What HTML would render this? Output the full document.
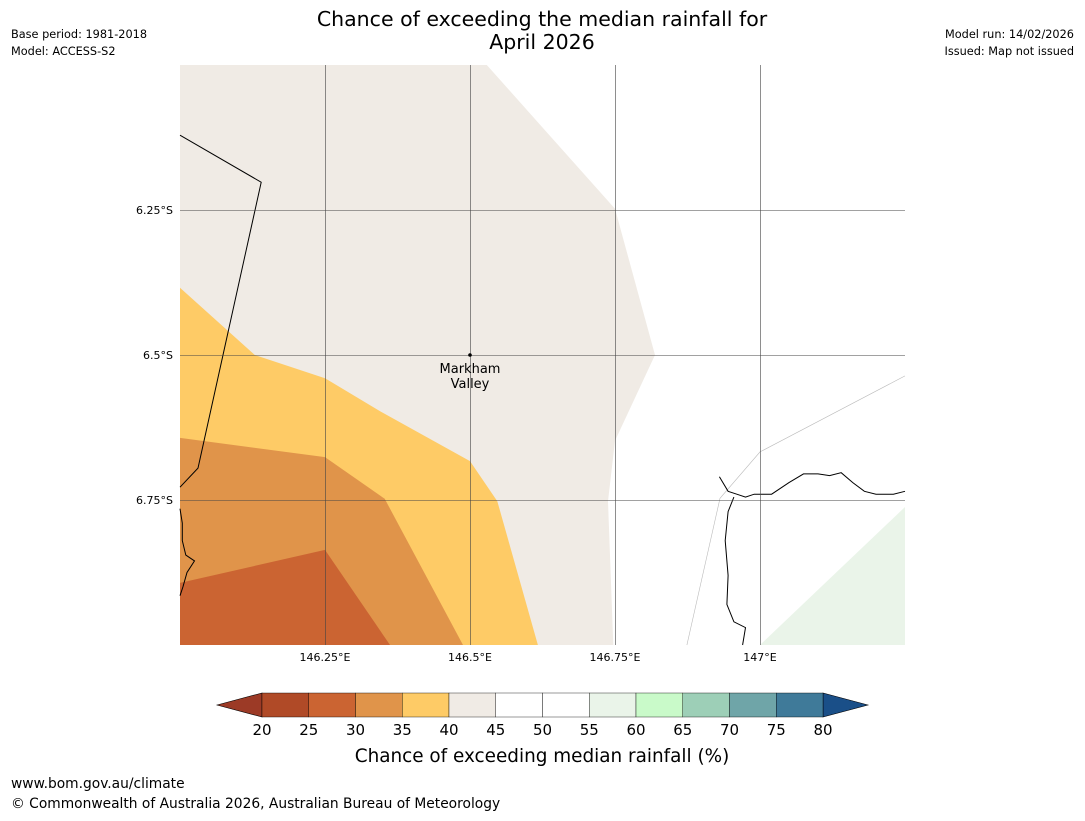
<!DOCTYPE html>
<html><head><meta charset="utf-8"><style>
body{margin:0;background:#fff;width:1085px;height:816px;overflow:hidden;font-family:"Liberation Sans","DejaVu Sans",sans-serif}
svg text{font-family:"DejaVu Sans","Liberation Sans",sans-serif}
</style></head><body>
<svg id="c" width="1085" height="816">
<text x="542" y="26" font-size="20.5" text-anchor="middle">Chance of exceeding the median rainfall for</text>
<text x="542" y="49" font-size="20.5" text-anchor="middle">April 2026</text>
<text x="11" y="38" font-size="11.3">Base period: 1981-2018</text>
<text x="11" y="55" font-size="11.3">Model: ACCESS-S2</text>
<text x="1074" y="38" font-size="11.3" text-anchor="end">Model run: 14/02/2026</text>
<text x="1074" y="55" font-size="11.3" text-anchor="end">Issued: Map not issued</text>
<g id="map"></g>
<g id="cb"></g>
<text x="542" y="762" font-size="18.4" text-anchor="middle">Chance of exceeding median rainfall (%)</text>
<text x="11" y="788" font-size="13.8">www.bom.gov.au/climate</text>
<text x="11" y="808" font-size="13.8">© Commonwealth of Australia 2026, Australian Bureau of Meteorology</text>
</svg>
<script>
const lonTicks=[146.25,146.5,146.75,147];
const latTicks=[6.25,6.5,6.75];
const lonLabels=["146.25°E","146.5°E","146.75°E","147°E"];
const latLabels=["6.25°S","6.5°S","6.75°S"];
const cbLevels=[20,25,30,35,40,45,50,55,60,65,70,75,80];
const cbColors=["#b04a27","#cb6432","#e0944a","#fecb66","#f0ebe5","#ffffff","#ffffff","#eaf4e9","#c9fac9","#9dcfb7","#6fa5a8","#3f7a99"];
const zone4045=[[146,6],[146.529,6],[146.75,6.248],[146.819,6.5],[146.75,6.648],[146.738,6.752],[146.747,7],[146,7]];
const zone3540=[[146,6.384],[146.129,6.5],[146.25,6.54],[146.345,6.597],[146.5,6.683],[146.547,6.752],[146.617,7],[146,7]];
const zone3035=[[146,6.643],[146.25,6.676],[146.353,6.748],[146.488,7],[146,7]];
const zone2530=[[146,6.893],[146.25,6.836],[146.362,7],[146,7]];
const zone5560=[[147,7],[147.25,6.762],[147.25,7]];
const border=[[146,6.121],[146.14,6.202],[146.031,6.695],[146,6.728]];
const thinLine=[[146.874,7],[146.931,6.747],[147,6.667],[147.25,6.536]];
const coast=[[146.93,6.71],[146.945,6.735],[146.96,6.74],[146.975,6.745],[146.99,6.74],[147.02,6.74],[147.05,6.72],[147.075,6.705],[147.1,6.705],[147.12,6.708],[147.14,6.703],[147.16,6.72],[147.18,6.735],[147.2,6.74],[147.23,6.74],[147.25,6.735]];
const coast2=[[146.955,6.745],[146.945,6.77],[146.94,6.82],[146.945,6.88],[146.943,6.93],[146.955,6.96],[146.975,6.97],[146.97,7]];
const leftCoast=[[146,6.765],[146.004,6.79],[146.004,6.82],[146.01,6.845],[146.025,6.855],[146.012,6.875],[146.005,6.9],[146,6.915]];
const town=[146.5,6.5];
const X=lon=>180+(lon-146)/1.25*725;
const Y=lat=>65+(lat-6)/1*580;
const NS="http://www.w3.org/2000/svg";
const map=document.getElementById('map');
function mk(tag,attrs,parent){const e=document.createElementNS(NS,tag);for(const k in attrs)e.setAttribute(k,attrs[k]);parent.appendChild(e);return e;}
const pts=a=>a.map(p=>X(p[0]).toFixed(1)+","+Y(p[1]).toFixed(1)).join(" ");
[[zone4045,"#f0ebe5","zone-40-45"],[zone3540,"#fecb66","zone-35-40"],[zone3035,"#e0944a","zone-30-35"],[zone2530,"#cb6432","zone-25-30"],[zone5560,"#eaf4e9","zone-55-60"]].forEach(z=>{
 const e=mk('polygon',{points:pts(z[0]),fill:z[1]},map);
 
 
});
const bl=mk('polyline',{points:pts(border),fill:"none",stroke:"#000","stroke-width":1},map);


const tl=mk('polyline',{points:pts(thinLine),fill:"none",stroke:"#bbb","stroke-width":0.6},map);


[coast,coast2,leftCoast].forEach(c=>{const e=mk('polyline',{points:pts(c),fill:"none",stroke:"#000","stroke-width":1},map);
 
 });
lonTicks.forEach((v,i)=>{
 const l=mk('line',{x1:X(v)+0.5,x2:X(v)+0.5,y1:65,y2:645,stroke:"#444","stroke-width":0.6},map);
 
 
 const t=mk('text',{x:X(v),y:661,"font-size":11,"text-anchor":"middle"},map);t.textContent=lonLabels[i];
 
 
});
latTicks.forEach((v,i)=>{
 const l=mk('line',{x1:180,x2:905,y1:Y(v)+0.5,y2:Y(v)+0.5,stroke:"#444","stroke-width":0.6},map);
 
 
 const t=mk('text',{x:173,y:Y(v)+4,"font-size":11,"text-anchor":"end"},map);t.textContent=latLabels[i];
 
 
});
const d=mk('circle',{cx:X(town[0]),cy:Y(town[1]),r:1.8,fill:"#000"},map);


const t1=mk('text',{x:X(town[0]),y:Y(town[1])+18,"font-size":13,"text-anchor":"middle"},map);t1.textContent="Markham";


const t2=mk('text',{x:X(town[0]),y:Y(town[1])+33,"font-size":13,"text-anchor":"middle"},map);t2.textContent="Valley";


const cb=document.getElementById('cb');
const cx0=262,cx1=823,cy0=693,cy1=717,n=cbColors.length,w=(cx1-cx0)/n;
const la=mk('polygon',{points:`217,705 ${cx0},${cy0} ${cx0},${cy1}`,fill:"#9c3a26",stroke:"#000","stroke-width":0.6},cb);


const ra=mk('polygon',{points:`868,705 ${cx1},${cy0} ${cx1},${cy1}`,fill:"#1a4f88",stroke:"#000","stroke-width":0.6},cb);


cbColors.forEach((c,i)=>{
 const r=mk('rect',{x:cx0+i*w,y:cy0,width:w,height:cy1-cy0,fill:c,stroke:"#000","stroke-width":0.4},cb);
 
 
});
cbLevels.forEach((v,i)=>{
 const t=mk('text',{x:cx0+i*w,y:735,"font-size":15,"text-anchor":"middle"},cb);t.textContent=v;
 
 
});
</script>
</body></html>
